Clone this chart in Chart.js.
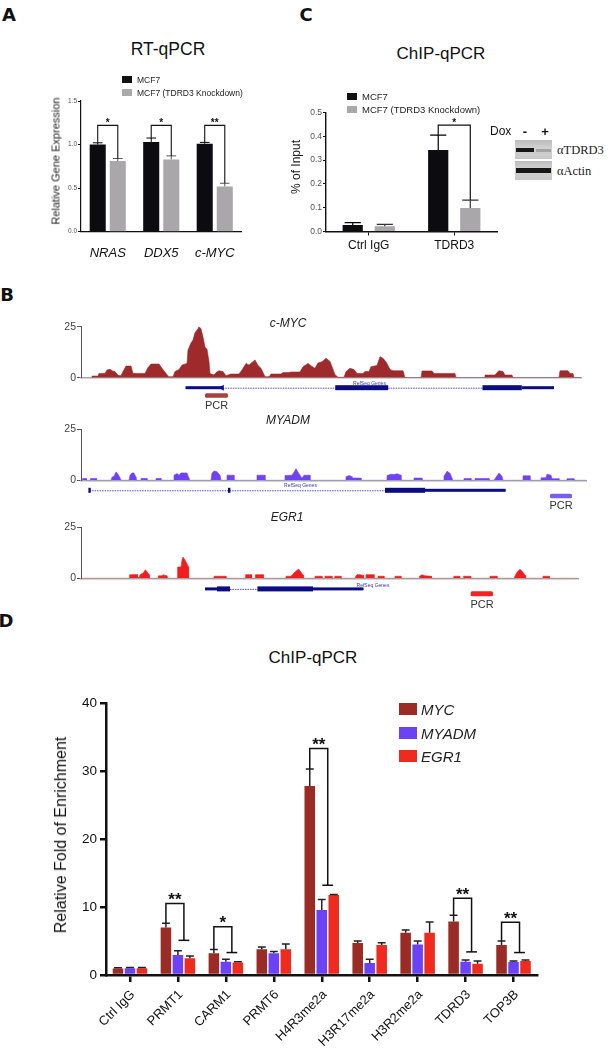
<!DOCTYPE html>
<html>
<head>
<meta charset="utf-8">
<script src="https://cdn.jsdelivr.net/npm/chart.js@4.4.1/dist/chart.umd.min.js"></script>
<style>
  body { margin: 0; background: #fff; width: 616px; height: 1050px; position: relative; overflow: hidden;
         font-family: "Liberation Sans", Arial, sans-serif; color: #111; }
  canvas { position: absolute; }
  .t { position: absolute; white-space: nowrap; line-height: 1; transform: translate(-50%, -50%); }
  .l { position: absolute; white-space: nowrap; line-height: 1; transform: translateY(-50%); }
  .sw, .blot, .band { position: absolute; }
  .blot { background: linear-gradient(#bcbcbc, #d0d0d0 40%, #c8c8c8); }
  .band { filter: blur(0.7px); }
</style>
</head>
<body>

<div class="blot" style="left:515px;top:140px;width:37px;height:19px">
  <div class="band" style="left:1px;top:8px;width:18px;height:4px;background:#161616"></div>
  <div class="band" style="left:21px;top:9px;width:15px;height:2.5px;background:#a4a4a4"></div>
</div>
<div class="blot" style="left:515px;top:161px;width:37px;height:19px">
  <div class="band" style="left:1px;top:7px;width:35px;height:5px;background:#161616"></div>
</div>

<script>
// ---- A: RT-qPCR ----
const rtGenes = ['NRAS', 'DDX5', 'c-MYC'];
const rtMCF7 = [1.00, 1.03, 1.01];
const rtMCF7Err = [0.02, 0.045, 0.015];
const rtKD = [0.81, 0.83, 0.52];
const rtKDErr = [0.03, 0.04, 0.036];
const rtSig = [
  { cat: 0, from: 0, to: [1], top: 1.22, label: '*' },
  { cat: 1, from: 0, to: [1], top: 1.22, label: '*' },
  { cat: 2, from: 0, to: [1], top: 1.22, label: '**' }
];

// ---- C: ChIP-qPCR (% of input) ----
const chipCats = ['Ctrl IgG', 'TDRD3'];
const chipMCF7 = [0.027, 0.342];
const chipMCF7Err = [0.010, 0.063];
const chipKD = [0.022, 0.099];
const chipKDErr = [0.008, 0.033];
const chipSig = [{ cat: 1, from: 0, to: [1], top: 0.447, label: '*' }];

// ---- B: ChIP-seq tracks (position along locus, signal) ----
const mycSignal = [[11,0],[11,0.8],[17,0.8],[18,2.1],[24,2.1],[26,3.8],[29,4.1],[32,3.2],[34,3.0],[37,1.2],[40,1.0],[42,3],
  [45,5.7],[50,5.7],[52,2.1],[64,2.1],[67,5],[70,6.7],[78,6.7],[81,4.6],[86,1.5],[88,0.5],[92,0.5],[94,3.0],[98,4],
  [101,6.2],[106,7],[107,13.6],[110,17],[112,18.5],[114,22],[117,24],[118,25],[120,24],[122,20],[124,15],[126,14],
  [128,8],[129,2.0],[133,1.3],[135,2.5],[138,3.4],[142,3.0],[145,1.0],[150,1.8],[158,1.8],[161,3.8],[165,7.0],
  [168,6.2],[171,7.5],[174,8.7],[177,6],[180,4.6],[184,0.5],[188,0.5],[190,1.8],[200,1.8],[202,2.5],[208,2.5],
  [210,2.8],[219,2.8],[222,5.4],[227,7.0],[231,5.5],[234,4.6],[237,7.2],[241,7.8],[245,9.5],[249,8],[251,5.4],
  [254,1.5],[257,0.2],[263,0.2],[265,3.0],[269,4.6],[273,4.0],[276,2.1],[282,2.1],[284,3.0],[288,3.0],[290,5.4],
  [296,6],[299,10.3],[302,9.5],[305,7.8],[309,4],[312,3.4],[322,3.4],[324,0],[340,0],[341,3.3],[351,3.3],[353,2.1],
  [374,2.1],[375,0],[404,0],[404,1.3],[414,1.3],[416,2.5],[418,3.4],[422,3.0],[424,1.3],[431,1.3],[432,0],[478,0],
  [479,3.4],[487,3.4],[489,2.1],[492,2.1],[493,0],[500,0]];
const myadmSignal = [[0,0],[1.5,0],[1.5,0.9],[5.5,0.9],[5.5,0],[9.5,0],[9.5,0.9],[15.5,0.9],[15.5,0],[30,0],[31,1.5],
  [33,2],[35,4.1],[37,3],[39,1.2],[40,0],[48,0],[49,2.5],[51,3.6],[53,3.6],[55,1.5],[55,0],[60,0],[60,0.9],[66,0.9],
  [66,0],[75,0],[75,0.9],[80,0.9],[80,0],[93,0],[93,2.5],[96,3.3],[98,2.5],[100,3.6],[106,3.6],[108,1],[108,0],
  [130,0],[131,3.5],[133,4.6],[136,4.2],[139,2.5],[140,0],[146,0],[146,2.5],[153,2.5],[153,0],[176,0],[176,2.5],
  [184,2.5],[184,0],[204,0],[204,2.3],[211,2.5],[213,4],[215,5.7],[217,4],[219,2.5],[221,1],[223,2.5],[229,2.5],
  [229,0],[265,0],[265,1.8],[268,2.3],[271,1.8],[271,1.1],[280,1.1],[280,0],[306,0],[306,2.3],[310,3.0],[313,2.8],
  [316,3.2],[320,2.5],[320,0],[333,0],[333,1.1],[341,1.1],[341,0],[363,0],[363,2],[366,4.4],[369,3.5],[371,1],
  [371,0],[383,0],[383,0.9],[390,0.9],[390,0],[394,0],[394,0.9],[408,0.9],[408,0],[413,0],[415,1.5],[418,3.6],
  [421,2],[422,0],[442,0],[442,2.2],[449,2.2],[449,0],[460,0],[460,1.2],[465,1.3],[466,3.0],[470,2.5],[471,0.8],
  [478,0.8],[478,0],[486,0],[486,0.8],[493,0.8],[493,0],[505,0]];
const egr1Signal = [[0,0],[48.7,0],[48.7,1.8],[56.5,1.8],[56.5,0.5],[58.5,0.5],[59,1.8],[62,2.5],[64.4,4.2],[67,2.5],
  [68.3,1.8],[68.3,0],[77.3,0],[77.3,1.2],[81,1.2],[82,1.8],[84,1.4],[86,1.2],[86,0],[96.6,0],[96.6,5.5],[100,5.5],
  [101,9],[102,10.4],[104,9],[106,7],[107.6,5.5],[107.6,0],[133,0],[133,1.0],[145,1.0],[145,0],[164.6,0],
  [164.6,1.8],[170.5,1.8],[170.5,0],[174.4,0],[174.4,1.8],[182.3,1.8],[182.3,0],[205,0],[205,1],[209.8,1],
  [211,1.5],[213.7,3],[217.6,4.5],[220,3],[222.3,1.5],[222.3,0],[234,0],[234,1],[241,1],[241,0],[244,0],[244,1],
  [251,1],[251,0],[253.8,0],[253.8,1],[260,1],[260,0],[274.6,0],[274.6,1],[276,1.8],[279,1.8],[282.5,1.4],
  [282.5,0],[285,0],[285,1.8],[293,1.8],[293,0],[297,0],[297,1],[303,1],[303,0],[314,0],[314,1],[320,1],[320,0],
  [338.6,0],[338.6,1],[341,1.8],[344,1.2],[350.4,1],[350.4,0],[372.8,0],[372.8,1],[378.7,1],[378.7,0],[382.6,0],
  [382.6,1],[389.7,1],[389.7,0],[409,0],[409,1],[416,1],[416,0],[433,0],[434.5,1.5],[436,3],[439,4.4],[442,3],
  [444,1.5],[444.7,0],[462,0],[462,1],[468.3,1],[468.3,0],[497.5,0]];
const mycSpan = 500, myadmSpan = 505, egr1Span = 497.5;
// gene models: [start, end, kind]
const mycGene = [[104.5,141.8,'utr'],[141.8,254.2,'intron'],[254.2,307.2,'cds'],[307.2,401.5,'intron'],
  [401.5,440.8,'cds'],[440.8,473,'utr'],[141.8,141.8,'arrow']];
const myadmGene = [[8.6,304,'intron'],[7.4,9.8,'cds'],[147,149.4,'cds'],[304,344,'cds'],[344,424.7,'utr']];
const egr1Gene = [[124,136,'utr'],[136,149,'cds'],[149,176.4,'intron'],[176.4,232,'cds'],[232,282.5,'utr']];
const mycPcr = [124, 147], myadmPcr = [469, 491], egr1Pcr = [389.7, 412];

// ---- D: ChIP-qPCR fold enrichment ----
const dCats = ['Ctrl IgG', 'PRMT1', 'CARM1', 'PRMT6', 'H4R3me2a', 'H3R17me2a', 'H3R2me2a', 'TDRD3', 'TOP3B'];
const dMyc = [0.95, 7.0, 3.2, 3.8, 27.8, 4.7, 6.2, 7.85, 4.4];
const dMycErr = [0.12, 0.6, 0.55, 0.3, 2.5, 0.3, 0.4, 0.95, 0.6];
const dMyadm = [1.0, 2.95, 1.95, 3.2, 9.55, 1.75, 4.5, 1.95, 1.9];
const dMyadmErr = [0.12, 0.6, 0.35, 0.25, 1.55, 0.55, 0.5, 0.25, 0.15];
const dEgr1 = [1.0, 2.45, 1.85, 3.8, 11.75, 4.4, 6.2, 1.65, 2.05];
const dEgr1Err = [0.12, 0.35, 0.1, 0.75, 0.1, 0.35, 1.6, 0.4, 0.15];
const dSig = [
  { cat: 1, from: 0, to: [1, 2], top: 10.5, foot: 5.1, label: '**' },
  { cat: 2, from: 0, to: [1, 2], top: 7.1, foot: 3.3, label: '*' },
  { cat: 4, from: 0, to: [1, 2], top: 33.3, foot: 13.2, label: '**' },
  { cat: 7, from: 0, to: [1, 2], top: 11.3, foot: 3.4, label: '**' },
  { cat: 8, from: 0, to: [1, 2], top: 7.75, foot: 3.3, label: '**' }
];

const SANS = '"Liberation Sans", Arial, sans-serif';
Chart.defaults.font.family = SANS;
Chart.defaults.animation = false;
Chart.defaults.responsive = false;
Chart.defaults.maintainAspectRatio = false;
Chart.defaults.plugins.legend.display = false;
Chart.defaults.plugins.tooltip.enabled = false;

function mkCanvas(l, t, w, h) {
  const c = document.createElement('canvas');
  c.width = w; c.height = h;
  c.style.left = l + 'px'; c.style.top = t + 'px';
  document.body.appendChild(c);
  return c;
}

function put(html, x, y, css, left) {
  const d = document.createElement('div');
  d.className = left ? 'l' : 't';
  d.innerHTML = html;
  d.style.left = x + 'px'; d.style.top = y + 'px';
  if (css) d.style.cssText += css;
  document.body.appendChild(d);
}

function swatch(x, y, w, h, color) {
  const d = document.createElement('div');
  d.className = 'sw';
  d.style.cssText = `left:${x}px;top:${y}px;width:${w}px;height:${h}px;background:${color}`;
  document.body.appendChild(d);
}

const errPlugin = {
  id: 'err',
  afterDatasetsDraw(chart, args, o) {
    const ctx = chart.ctx, ys = chart.scales.y;
    ctx.save();
    ctx.lineWidth = o.lw;
    chart.data.datasets.forEach((ds, i) => {
      ctx.strokeStyle = ds.errColor;
      chart.getDatasetMeta(i).data.forEach((el, j) => {
        const top = ys.getPixelForValue(ds.data[j] + ds.errors[j]);
        const hw = el.width * o.cap / 2;
        ctx.beginPath();
        ctx.moveTo(el.x, el.y); ctx.lineTo(el.x, top);
        ctx.moveTo(el.x - hw, top); ctx.lineTo(el.x + hw, top);
        ctx.stroke();
      });
    });
    ctx.restore();
  }
};

const sigPlugin = {
  id: 'sig',
  afterDatasetsDraw(chart, args, o) {
    if (!o.items) return;
    const ctx = chart.ctx, ys = chart.scales.y, ds = chart.data.datasets;
    const bar = (d, c) => chart.getDatasetMeta(d).data[c];
    const tip = (d, c) => ys.getPixelForValue(ds[d].data[c] + ds[d].errors[c]);
    ctx.save();
    ctx.strokeStyle = '#111'; ctx.fillStyle = '#111'; ctx.lineWidth = o.lw; ctx.lineJoin = 'miter';
    o.items.forEach(b => {
      const xl = bar(b.from, b.cat).x, yl = tip(b.from, b.cat), yt = ys.getPixelForValue(b.top);
      let xr, yr;
      if (b.to.length === 1) {
        xr = bar(b.to[0], b.cat).x; yr = tip(b.to[0], b.cat);
      } else {
        const x1 = bar(b.to[0], b.cat).x, x2 = bar(b.to[1], b.cat).x;
        xr = (x1 + x2) / 2; yr = ys.getPixelForValue(b.foot);
        const hw = (x2 - x1) * o.foot / 2;
        ctx.beginPath(); ctx.moveTo(xr - hw, yr); ctx.lineTo(xr + hw, yr); ctx.stroke();
      }
      ctx.beginPath();
      ctx.moveTo(xl, yl); ctx.lineTo(xl, yt); ctx.lineTo(xr, yt); ctx.lineTo(xr, yr);
      ctx.stroke();
      ctx.font = `bold ${o.size}px ${SANS}`;
      ctx.textAlign = 'center'; ctx.textBaseline = 'alphabetic';
      ctx.fillText(b.label, (xl + xr) / 2, yt - o.gap + o.size * 0.57);
    });
    ctx.restore();
  }
};

const genePlugin = {
  id: 'gene',
  afterDraw(chart, args, o) {
    const ctx = chart.ctx, xs = chart.scales.x, base = chart.chartArea.bottom;
    const yg = base + o.off;
    ctx.save();
    o.parts.forEach(([s, e, k]) => {
      const x1 = xs.getPixelForValue(s), x2 = xs.getPixelForValue(e);
      if (k === 'intron') {
        ctx.strokeStyle = '#5050c8'; ctx.lineWidth = 1; ctx.setLineDash([1.5, 1]);
        ctx.beginPath(); ctx.moveTo(x1, yg + 0.5); ctx.lineTo(x2, yg + 0.5); ctx.stroke();
        ctx.setLineDash([]);
      } else if (k === 'arrow') {
        ctx.fillStyle = '#0c0c82';
        ctx.beginPath(); ctx.moveTo(x1 - 4, yg); ctx.lineTo(x1 + 1, yg - 3); ctx.lineTo(x1 + 1, yg + 3); ctx.fill();
      } else {
        const h = k === 'cds' ? 5 : 3;
        ctx.fillStyle = '#0c0c82';
        ctx.fillRect(x1, yg - h / 2, x2 - x1, h);
      }
    });
    const p1 = xs.getPixelForValue(o.pcr[0]), p2 = xs.getPixelForValue(o.pcr[1]);
    ctx.fillStyle = o.pcrColor;
    ctx.beginPath();
    ctx.roundRect(p1, base + o.pcrTop, p2 - p1, o.pcrH, 1.5);
    ctx.fill();
    ctx.restore();
  }
};

// ---------- Panel A ----------
new Chart(mkCanvas(40, 90, 212, 172), {
  type: 'bar',
  data: {
    labels: rtGenes,
    datasets: [
      { data: rtMCF7, errors: rtMCF7Err, backgroundColor: '#0b0b10', errColor: '#000' },
      { data: rtKD, errors: rtKDErr, backgroundColor: '#a9a7aa', errColor: '#555' }
    ]
  },
  options: {
    layout: { padding: { top: 11, right: 10.5, left: 0, bottom: 0 } },
    datasets: { bar: { categoryPercentage: 0.75, barPercentage: 0.8 } },
    scales: {
      x: {
        grid: { display: false },
        border: { color: '#111', width: 1.2 },
        ticks: { font: { size: 13, style: 'italic' }, color: '#111', padding: 6 },
        afterFit: s => { s.height = 30.3; }
      },
      y: {
        min: 0, max: 1.5,
        ticks: { stepSize: 0.5, callback: v => v.toFixed(1), font: { size: 6.5 }, color: '#555', padding: 1 },
        grid: { drawOnChartArea: false, tickLength: 3, color: '#111' },
        border: { color: '#111', width: 1.2 },
        afterFit: s => { s.width = 41; }
      }
    },
    plugins: { err: { cap: 0.6, lw: 1 }, sig: { items: rtSig, lw: 1.1, size: 10, gap: 5 } }
  },
  plugins: [errPlugin, sigPlugin]
});

// ---------- Panel C ----------
new Chart(mkCanvas(280, 95, 230, 167), {
  type: 'bar',
  data: {
    labels: chipCats,
    datasets: [
      { data: chipMCF7, errors: chipMCF7Err, backgroundColor: '#0b0b10', errColor: '#000' },
      { data: chipKD, errors: chipKDErr, backgroundColor: '#a9a7aa', errColor: '#333' }
    ]
  },
  options: {
    layout: { padding: { top: 17.5, right: 13, left: 0, bottom: 0 } },
    datasets: { bar: { categoryPercentage: 0.75, barPercentage: 0.63 } },
    scales: {
      x: {
        grid: { display: true, offset: false, drawOnChartArea: false, tickLength: 4, color: '#111' },
        border: { color: '#111', width: 1.4 },
        ticks: { font: { size: 12 }, color: '#111', padding: 3 },
        afterFit: s => { s.height = 30.5; }
      },
      y: {
        min: 0, max: 0.5,
        ticks: { stepSize: 0.1, callback: v => v.toFixed(1), font: { size: 8.5 }, color: '#555', padding: 1 },
        grid: { drawOnChartArea: false, tickLength: 3, color: '#111' },
        border: { color: '#111', width: 1.4 },
        afterFit: s => { s.width = 46; }
      }
    },
    plugins: { err: { cap: 0.8, lw: 1.2 }, sig: { items: chipSig, lw: 1.2, size: 10, gap: 5 } }
  },
  plugins: [errPlugin, sigPlugin]
});

// ---------- Panel B tracks ----------
function track(top, height, padTop, padRight, span, signal, color, gene, geneOff, pcr, pcrColor, pcrTop, pcrH) {
  const xh = height - padTop - 51;
  new Chart(mkCanvas(40, top, 560, height), {
    type: 'line',
    data: {
      datasets: [{
        data: signal.map(([x, y]) => ({ x, y })),
        borderColor: color, backgroundColor: color, borderWidth: 0.6,
        pointRadius: 0, fill: 'origin', tension: 0
      }]
    },
    options: {
      layout: { padding: { top: padTop, right: padRight, left: 0, bottom: 0 } },
      scales: {
        x: {
          type: 'linear', min: 0, max: span,
          ticks: { display: false }, grid: { display: false },
          border: { color: '#a8a8a8', width: 1.5 },
          afterFit: s => { s.height = xh; }
        },
        y: {
          min: 0, max: 25,
          afterBuildTicks: s => { s.ticks = [{ value: 0 }, { value: 25 }]; },
          ticks: { font: { size: 10.5 }, color: '#444', padding: 1 },
          grid: { drawOnChartArea: false, tickLength: 4, color: '#555' },
          border: { color: '#555', width: 1 },
          afterFit: s => { s.width = 41; }
        }
      },
      plugins: { gene: { parts: gene, off: geneOff, pcr, pcrColor, pcrTop, pcrH } }
    },
    plugins: [genePlugin]
  });
}
track(315, 90, 11.7, 19, mycSpan, mycSignal, '#9e2a2b', mycGene, 10, mycPcr, '#a8403c', 15.6, 4.5);
track(418, 85, 11.3, 14, myadmSpan, myadmSignal, '#7043f2', myadmGene, 10, myadmPcr, '#7b5cf2', 13.5, 4.5);
track(516, 86, 11.3, 21.5, egr1Span, egr1Signal, '#f01e1e', egr1Gene, 10.6, egr1Pcr, '#f42222', 13, 5);

// ---------- Panel D ----------
new Chart(mkCanvas(56, 690, 500, 360), {
  type: 'bar',
  data: {
    labels: dCats,
    datasets: [
      { data: dMyc, errors: dMycErr, backgroundColor: '#9a2b25', errColor: '#222' },
      { data: dMyadm, errors: dMyadmErr, backgroundColor: '#6b42f5', errColor: '#222' },
      { data: dEgr1, errors: dEgr1Err, backgroundColor: '#ee2b1e', errColor: '#222' }
    ]
  },
  options: {
    layout: { padding: { top: 13, right: 18.5, left: 0, bottom: 0 } },
    datasets: { bar: { categoryPercentage: 0.75, barPercentage: 0.88 } },
    scales: {
      x: {
        grid: { display: true, offset: false, drawOnChartArea: false, tickLength: 7, color: '#111', lineWidth: 2.5 },
        border: { color: '#111', width: 2.5 },
        ticks: { font: { size: 13 }, color: '#111', padding: 5, minRotation: 45, maxRotation: 45,
                 autoSkip: false, labelOffset: 3 },
        afterFit: s => { s.height = 75; }
      },
      y: {
        min: 0, max: 40,
        ticks: { stepSize: 10, font: { size: 13.5 }, color: '#111', padding: 3 },
        grid: { drawOnChartArea: false, tickLength: 6, color: '#111', lineWidth: 2.5 },
        border: { color: '#111', width: 2.5 },
        afterFit: s => { s.width = 50; }
      }
    },
    plugins: { err: { cap: 0.75, lw: 1.5 }, sig: { items: dSig, lw: 1.5, size: 17, gap: 8, foot: 0.9 } }
  },
  plugins: [errPlugin, sigPlugin]
});

// ---------- text ----------
const LET = 'font:bold 18px "DejaVu Sans", sans-serif;';
put('A', 9, 14, LET);
put('B', 7, 294, LET);
put('C', 306, 13.5, LET);
put('D', 6, 620, LET);

put('RT-qPCR', 168, 50, 'font-size:17.5px');
put('ChIP-qPCR', 441, 53, 'font-size:17px');
put('ChIP-qPCR', 313, 657, 'font-size:17px');

swatch(122, 76, 10, 7, '#111');
swatch(122, 89, 10, 7, '#aaa');
put('MCF7', 137, 80, 'font-size:8.5px;color:#222', true);
put('MCF7 (TDRD3 Knockdown)', 137, 92.5, 'font-size:8.5px;color:#222', true);

swatch(347, 93, 10, 7, '#111');
swatch(347, 106, 10, 7, '#aaa');
put('MCF7', 362, 96.5, 'font-size:9.5px;color:#222', true);
put('MCF7 (TDRD3 Knockdown)', 362, 109.5, 'font-size:9.5px;color:#222', true);

put('Relative Gene Expression', 56, 161, 'font-size:11px;color:#222;transform:translate(-50%,-50%) rotate(-90deg)');
put('% of Input', 296, 167, 'font-size:12px;color:#222;transform:translate(-50%,-50%) rotate(-90deg)');
put('Relative Fold of Enrichment', 61, 835, 'font-size:16px;color:#111;transform:translate(-50%,-50%) rotate(-90deg)');

put('Dox', 490, 131, 'font-size:12px', true);
put('-', 525, 131, 'font-size:13px;font-weight:bold');
put('+', 545, 131, 'font-size:13px;font-weight:bold');
put('&alpha;TDRD3', 557, 150, 'font:12.5px "Liberation Serif", serif;color:#222', true);
put('&alpha;Actin', 557, 171, 'font:12.5px "Liberation Serif", serif;color:#222', true);

const TT = 'font-size:12px;font-style:italic;color:#222';
put('c-MYC', 288, 323, TT);
put('MYADM', 288, 420, TT);
put('EGR1', 287, 517, TT);
const PC = 'font-size:11px;color:#333';
put('PCR', 216.5, 404.5, PC);
put('PCR', 561, 504.5, PC);
put('PCR', 482, 603.5, PC);
const RS = 'font-size:5px;color:#3838a8';
put('RefSeq Genes', 369.5, 382.5, RS);
put('RefSeq Genes', 300.5, 485, RS);
put('RefSeq Genes', 373, 584.5, RS);

swatch(399, 703, 17.5, 12, '#9a2b25');
swatch(399, 727, 17.5, 11.5, '#6b42f5');
swatch(399, 750, 17.5, 12, '#ee2b1e');
const LG = 'font-size:15px;font-style:italic;color:#222';
put('MYC', 421, 709, LG, true);
put('MYADM', 421, 732.5, LG, true);
put('EGR1', 421, 756, LG, true);
</script>
</body>
</html>
